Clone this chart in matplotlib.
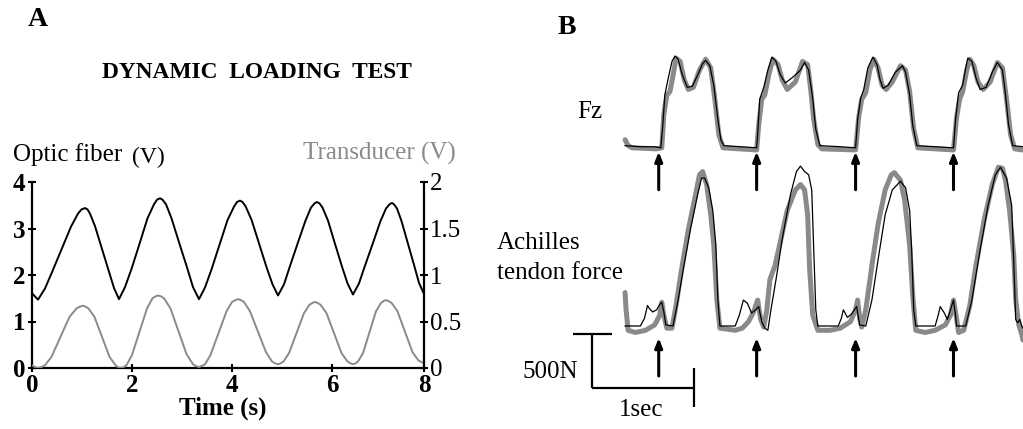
import numpy as np
import matplotlib.pyplot as plt

plt.rcParams['font.family'] = ['Liberation Serif', 'DejaVu Serif']

# ---------------- A: dynamic loading test ----------------
# optic fiber output (V, left axis)
fiber_t = [0.00, 0.05, 0.12, 0.26, 0.40, 0.59, 0.78, 0.92, 0.99, 1.06,
           1.11, 1.16, 1.26, 1.40, 1.54, 1.64, 1.74,
           1.86, 1.99, 2.15, 2.31, 2.44, 2.50, 2.56,
           2.61, 2.68, 2.79, 2.95, 3.11, 3.22, 3.34,
           3.46, 3.59, 3.75, 3.91, 4.04, 4.10, 4.16,
           4.21, 4.27, 4.39, 4.54, 4.69, 4.81, 4.92,
           5.04, 5.15, 5.31, 5.47, 5.58, 5.65, 5.70,
           5.75, 5.81, 5.92, 6.06, 6.20, 6.31, 6.42,
           6.54, 6.65, 6.81, 6.97, 7.08, 7.15, 7.20,
           7.24, 7.30, 7.39, 7.52, 7.65, 7.74, 7.84]
fiber_v = [1.61, 1.55, 1.47, 1.71, 2.06, 2.55, 3.04, 3.32, 3.41, 3.44,
           3.41, 3.32, 3.05, 2.56, 2.07, 1.72, 1.48,
           1.74, 2.13, 2.67, 3.22, 3.52, 3.62, 3.65,
           3.62, 3.52, 3.22, 2.67, 2.13, 1.74, 1.48,
           1.73, 2.12, 2.65, 3.18, 3.47, 3.57, 3.60,
           3.57, 3.48, 3.19, 2.68, 2.17, 1.80, 1.56,
           1.80, 2.16, 2.67, 3.17, 3.45, 3.54, 3.57,
           3.54, 3.45, 3.17, 2.67, 2.18, 1.82, 1.58,
           1.82, 2.17, 2.66, 3.16, 3.43, 3.52, 3.55,
           3.52, 3.43, 3.16, 2.67, 2.18, 1.83, 1.59]

# transducer output (V, right axis)
trans_t = [0.00, 0.06, 0.12, 0.19, 0.26, 0.39, 0.57, 0.75, 0.89, 0.96, 1.02,
           1.07, 1.13, 1.25, 1.40, 1.55, 1.67, 1.73, 1.78,
           1.83, 1.89, 2.00, 2.15, 2.30, 2.41, 2.47, 2.52,
           2.58, 2.64, 2.77, 2.93, 3.09, 3.22, 3.28, 3.34,
           3.39, 3.46, 3.57, 3.73, 3.89, 4.00, 4.07, 4.12,
           4.18, 4.24, 4.36, 4.52, 4.68, 4.80, 4.86, 4.92,
           4.97, 5.03, 5.14, 5.29, 5.44, 5.55, 5.61, 5.66,
           5.71, 5.77, 5.89, 6.04, 6.19, 6.31, 6.37, 6.42,
           6.47, 6.52, 6.62, 6.75, 6.88, 6.98, 7.03, 7.08,
           7.13, 7.19, 7.31, 7.46, 7.61, 7.73, 7.84]
trans_v = [0.03, 0.01, 0.00, 0.01, 0.03, 0.12, 0.335, 0.55, 0.64, 0.66, 0.67,
           0.66, 0.64, 0.55, 0.335, 0.12, 0.03, 0.005, 0.00,
           0.008, 0.03, 0.14, 0.39, 0.64, 0.75, 0.77, 0.78,
           0.77, 0.75, 0.64, 0.395, 0.15, 0.04, 0.02, 0.01,
           0.02, 0.04, 0.14, 0.375, 0.61, 0.71, 0.73, 0.74,
           0.73, 0.71, 0.61, 0.39, 0.17, 0.07, 0.05, 0.04,
           0.05, 0.07, 0.16, 0.375, 0.59, 0.68, 0.70, 0.71,
           0.70, 0.68, 0.59, 0.375, 0.16, 0.07, 0.05, 0.04,
           0.05, 0.07, 0.16, 0.385, 0.61, 0.70, 0.72, 0.73,
           0.72, 0.70, 0.61, 0.39, 0.17, 0.08, 0.05]

x_ticks = [0, 2, 4, 6, 7.84]
x_labels = ['0', '2', '4', '6', '8']
fiber_ticks = [0, 1, 2, 3, 4]
trans_ticks = [0, 0.5, 1, 1.5, 2]
trans_labels = ['0', '0.5', '1', '1.5', '2']

# ---------------- B: walking (time s, force N) ----------------
fz_thin_t = [0.03, 0.18, 0.32, 0.38, 0.40, 0.42, 0.45, 0.49, 0.52, 0.55, 0.59,
             0.64, 0.69, 0.75, 0.79, 0.82, 0.86, 0.90, 0.94, 0.97, 1.00, 1.16,
             1.32, 1.33, 1.35, 1.39, 1.43, 1.47, 1.51, 1.55, 1.60, 1.67, 1.75,
             1.79, 1.83, 1.87, 1.90, 1.94, 2.14,
             2.29, 2.31, 2.34, 2.37, 2.41, 2.46, 2.50, 2.53, 2.56, 2.61, 2.68,
             2.75, 2.78, 2.82, 2.85, 2.89, 3.07,
             3.25, 3.27, 3.30, 3.34, 3.37, 3.39, 3.43, 3.47, 3.51, 3.57, 3.63,
             3.68, 3.73, 3.76, 3.79, 3.83, 3.93]
fz_thin = [10, 0, 0, -10, 200, 480, 620, 790, 840, 810, 670,
           550, 560, 680, 770, 800, 750, 570, 250, 60, 10, 0,
           -10, 110, 440, 550, 710, 830, 790, 670, 590, 640, 710,
           780, 710, 440, 160, 10, 0,
           -10, 250, 450, 530, 730, 830, 760, 620, 540, 570, 690,
           750, 690, 480, 200, 10, 0,
           -10, 250, 500, 570, 730, 820, 790, 640, 530, 550, 690,
           780, 710, 480, 200, 10, 0]

fz_thick_t = [0.03, 0.06, 0.10, 0.34, 0.39, 0.41, 0.44, 0.47, 0.51, 0.53, 0.57,
              0.61, 0.65, 0.70, 0.76, 0.82, 0.87, 0.91, 0.95, 0.99,
              1.32, 1.34, 1.37, 1.40, 1.44, 1.48, 1.53, 1.57, 1.62, 1.70, 1.77,
              1.82, 1.85, 1.88, 1.92, 1.96,
              2.29, 2.32, 2.35, 2.39, 2.43, 2.47, 2.51, 2.55, 2.59, 2.65, 2.73,
              2.78, 2.82, 2.86, 2.90,
              3.25, 3.28, 3.31, 3.34, 3.38, 3.41, 3.45, 3.49, 3.54, 3.61, 3.68,
              3.73, 3.77, 3.81, 3.85, 3.93]
fz_thick = [65, 10, -10, -20, -10, 300, 480, 510, 710, 820, 790,
            620, 530, 550, 710, 810, 730, 440, 110, -10,
            -30, 200, 440, 480, 670, 810, 760, 620, 530, 600, 790,
            760, 530, 250, 20, -20,
            -30, 270, 440, 500, 710, 810, 730, 570, 530, 600, 750,
            710, 510, 160, -10,
            -30, 270, 440, 510, 710, 810, 750, 600, 530, 600, 780,
            730, 440, 110, -20, -30]

at_thin_t = [0.03, 0.18, 0.22, 0.25, 0.27, 0.30, 0.34, 0.37, 0.39, 0.41, 0.43,
             0.50, 0.55, 0.60, 0.67, 0.74, 0.78, 0.81, 0.85, 0.89, 0.92, 0.94,
             0.96, 1.11, 1.15, 1.19, 1.23, 1.27, 1.31, 1.34, 1.37, 1.40, 1.43,
             1.46, 1.51, 1.57, 1.65, 1.71, 1.75, 1.79, 1.83, 1.86, 1.88, 1.90,
             1.92, 2.12, 2.15, 2.17, 2.21, 2.25, 2.30, 2.33, 2.39, 2.45, 2.51,
             2.58, 2.65, 2.73, 2.78, 2.82, 2.84, 2.86, 2.88, 3.07, 3.10, 3.12,
             3.16, 3.19, 3.22, 3.25, 3.27, 3.28, 3.37, 3.43, 3.51, 3.59, 3.66,
             3.71, 3.77, 3.82, 3.84, 3.86, 3.88, 3.90, 3.92, 3.93]
at_thin = [0, 0, 70, 190, 160, 130, 150, 200, 220, 130, 10,
           0, 240, 520, 890, 1210, 1370, 1370, 1280, 1070, 750, 240,
           0, 0, 100, 240, 210, 120, 150, 180, 40, -20, -40,
           150, 430, 800, 1210, 1430, 1480, 1430, 1400, 1260, 700, 150,
           0, 0, 70, 150, 80, 110, 180, 10, 0, 240, 610,
           1030, 1260, 1340, 1280, 1070, 700, 150, 0, 0, 100, 180,
           120, 60, 150, 240, 100, 0, 0, 240, 700, 1120, 1400,
           1470, 1370, 1120, 610, 60, 30, 60, 0, -20]

at_thick_t = [0.03, 0.04, 0.06, 0.13, 0.23, 0.32, 0.37, 0.39, 0.41, 0.44, 0.49,
              0.53, 0.58, 0.65, 0.72, 0.76, 0.79, 0.83, 0.87, 0.90, 0.93, 0.96,
              1.11, 1.18, 1.24, 1.29, 1.33, 1.36, 1.39, 1.42, 1.45, 1.50, 1.55,
              1.62, 1.70, 1.75, 1.79, 1.82, 1.84, 1.87, 1.92,
              2.04, 2.14, 2.24, 2.29, 2.31, 2.33, 2.35, 2.39, 2.45, 2.51, 2.58,
              2.64, 2.67, 2.73, 2.77, 2.82, 2.85, 2.88,
              2.97, 3.07, 3.17, 3.22, 3.25, 3.28, 3.30, 3.35, 3.41, 3.47, 3.55,
              3.63, 3.69, 3.73, 3.76, 3.80, 3.84, 3.86, 3.89, 3.92, 3.93]
at_thick = [310, 150, -40, -60, -40, 10, 100, 220, 100, -20, -20,
            190, 500, 890, 1210, 1400, 1430, 1310, 1030, 750, 240, -20,
            -40, -20, 40, 130, 240, 60, -10, 150, 430, 560, 770,
            1070, 1260, 1310, 1260, 1030, 520, 100, -40,
            -40, -20, 40, 150, 240, 70, -10, 150, 560, 940, 1260,
            1400, 1420, 1350, 1170, 750, 290, -40,
            -60, -40, 10, 100, 240, 70, -60, -40, 190, 560, 980,
            1310, 1470, 1460, 1350, 1070, 660, 240, 10, -80, -130]

heel_strike = [0.36, 1.32, 2.29, 3.25]

# ---------------- layout ----------------
W, H = 1023, 429
GRAY = '#8a8a8a'


def fx(px):
    return px / W


def fy(py):
    return 1 - py / H


fig = plt.figure(figsize=(W / 100, H / 100), dpi=100)

# panel A
axA = fig.add_axes([fx(32), fy(368), fx(424) - fx(32), fy(182) - fy(368)])
axA.plot(fiber_t, fiber_v, color='k', lw=1.4, solid_joinstyle='round')
axA.set_xlim(0, 7.84)
axA.set_ylim(0, 4)
axA.set_xticks(x_ticks, x_labels)
axA.set_yticks(fiber_ticks)
axA.spines['top'].set_visible(False)
axA.spines['right'].set_visible(False)
for s in ['left', 'bottom']:
    axA.spines[s].set_linewidth(1.6)
axA.tick_params(direction='inout', length=6, width=1.5, labelsize=18, pad=2)
axA.tick_params(axis='x', pad=1)
for lab in axA.get_xticklabels() + axA.get_yticklabels():
    lab.set_fontweight('bold')

axA2 = axA.twinx()
axA2.plot(trans_t, trans_v, color=GRAY, lw=1.4, solid_joinstyle='round')
axA2.set_ylim(0, 2)
axA2.set_yticks(trans_ticks, trans_labels)
for s in ['top', 'left', 'bottom']:
    axA2.spines[s].set_visible(False)
axA2.spines['right'].set_linewidth(1.6)
axA2.tick_params(direction='inout', length=6, width=1.5, labelsize=18, pad=1)

fig.text(fx(223), fy(408), 'Time (s)', ha='center', va='center', fontsize=18, fontweight='bold')
fig.text(fx(13), fy(161), 'Optic fiber', ha='left', va='baseline', fontsize=18)
fig.text(fx(132), fy(163), '(V)', ha='left', va='baseline', fontsize=17)
fig.text(fx(303), fy(160), 'Transducer (V)', ha='left', va='baseline', fontsize=18, color=GRAY)
fig.text(fx(257), fy(73), 'DYNAMIC  LOADING  TEST', ha='center', va='center', fontsize=16.8, fontweight='bold')
fig.text(fx(38), fy(20), 'A', ha='center', va='center', fontsize=20, fontweight='bold')
fig.text(fx(567), fy(28), 'B', ha='center', va='center', fontsize=20, fontweight='bold')

# panel B: 1 s = 102 px, 500 N = 54 px, t=0 at x=622 px, 0 N at y=326 px
SEC_PX, N_PX = 102, 54 / 500
T0_PX, F0_PX = 622, 326
axB = fig.add_axes([fx(480), 0, 1 - fx(480), fy(40)])
axB.set_xlim((480 - T0_PX) / SEC_PX, (W - T0_PX) / SEC_PX)
axB.set_ylim(-(H - F0_PX) / N_PX, (F0_PX - 40) / N_PX)
axB.axis('off')

fz_offset = 1660
axB.plot(fz_thick_t, np.array(fz_thick) + fz_offset, color=GRAY, lw=3.6,
         solid_capstyle='round', solid_joinstyle='round')
axB.plot(fz_thin_t, np.array(fz_thin) + fz_offset, color='k', lw=0.9)
axB.plot(at_thick_t, at_thick, color=GRAY, lw=3.6,
         solid_capstyle='round', solid_joinstyle='round')
axB.plot(at_thin_t, at_thin, color='k', lw=0.9)

arrow = dict(arrowstyle='-|>,head_length=0.55,head_width=0.22', color='k', lw=2.2,
             shrinkA=0, shrinkB=0)
for t in heel_strike:
    axB.annotate('', xy=(t, fz_offset - 46), xytext=(t, fz_offset - 398), arrowprops=arrow)
    axB.annotate('', xy=(t, -111), xytext=(t, -463), arrowprops=arrow)

# scale bar
bar_t, bar_f = -0.29, -574
bar_sec, bar_N = 1.0, 500
kw = dict(color='k', lw=1.6, solid_capstyle='butt')
axB.plot([bar_t, bar_t], [bar_f, bar_f + bar_N], **kw)
axB.plot([bar_t, bar_t + bar_sec], [bar_f, bar_f], **kw)
axB.plot([bar_t - 0.19, bar_t + 0.19], [bar_f + bar_N, bar_f + bar_N], **kw)
axB.plot([bar_t + bar_sec, bar_t + bar_sec], [bar_f + 185, bar_f - 176], **kw)

fig.text(fx(577), fy(112), 'Fz', ha='left', va='center', fontsize=18)
fig.text(fx(497), fy(243), 'Achilles', ha='left', va='center', fontsize=18)
fig.text(fx(497), fy(273), 'tendon force', ha='left', va='center', fontsize=18)
fig.text(fx(578), fy(372), '500N', ha='right', va='center', fontsize=18)
fig.text(fx(641), fy(410), '1sec', ha='center', va='center', fontsize=18)

fig.savefig('out.png', dpi=100)
